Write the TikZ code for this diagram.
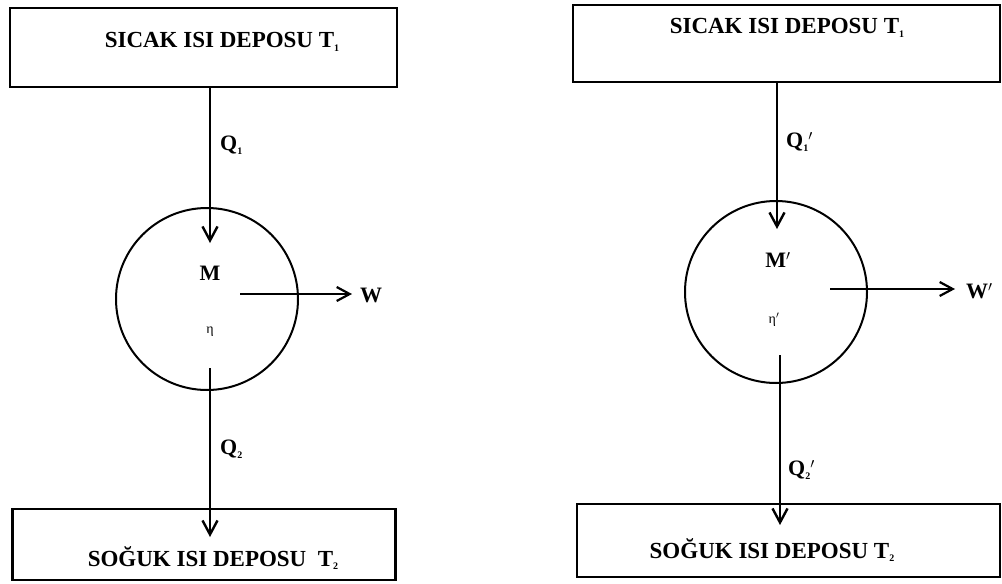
\documentclass[tikz,border=0pt]{standalone}
\usepackage{fontspec}
\setmainfont{Liberation Serif}
\usetikzlibrary{arrows.meta}
\newcommand{\sbs}[1]{\raisebox{-0.35ex}{\fontsize{10}{11}\selectfont #1}}
\begin{document}
\begin{tikzpicture}[x=1pt,y=-1pt,
  reservoir/.style={draw, line width=2.4pt, rectangle, inner sep=0pt},
  engine/.style={draw, line width=2pt, circle, inner sep=0pt},
  lbl/.style={font=\bfseries\fontsize{23}{27}\selectfont, inner sep=0pt},
  sym/.style={font=\bfseries\fontsize{22}{26}\selectfont, inner sep=0pt},
  eff/.style={font=\fontsize{14}{16}\selectfont, inner sep=0pt},
  flow/.style={line width=2.4pt, -{Straight Barb[length=14pt,width=15pt,line width=2.4pt]}},
  work/.style={line width=2.2pt, -{Straight Barb[length=13pt,width=14pt,line width=2.2pt]}}]
\useasboundingbox (0,0) rectangle (1002,584);

% left engine
\node[reservoir, minimum width=387pt, minimum height=79pt] (hotA) at (203.5,47.5) {};
\node[lbl] (hotAt) at (222,42) {SICAK ISI DEPOSU T\sbs{1}};
\node[reservoir, minimum width=383pt, minimum height=71pt] (coldA) at (204,544.5) {};
\node[lbl] (coldAt) at (213,558) {SOĞUK ISI DEPOSU\ \ T\sbs{2}};
\node[engine, minimum size=182pt] (engA) at (207,299) {};
\node[sym] (mA) at (210,273) {M};
\node[eff] (etaA) at (210,332) {η};
\coordinate (inA) at (210,243);
\coordinate (outA) at (210,368);
\coordinate (tipA) at (210,537);
\coordinate (wA0) at (240,294);
\coordinate (wA1) at (352,294);
\node[sym, anchor=west] (wA) at (360,295) {W};
\draw[flow] (hotA.south -| inA) -- (inA);
\draw[flow] (outA) -- (tipA);
\draw[work] (wA0) -- (wA1);
\node[sym, anchor=west] (qA1) at (220,145) {Q\sbs{1}};
\node[sym, anchor=west] (qA2) at (220,449) {Q\sbs{2}};

% right engine
\node[reservoir, minimum width=427pt, minimum height=77pt] (hotB) at (786.5,43.5) {};
\node[lbl] (hotBt) at (787,28) {SICAK ISI DEPOSU T\sbs{1}};
\node[reservoir, minimum width=423pt, minimum height=73pt] (coldB) at (788.5,540.5) {};
\node[lbl] (coldBt) at (772,550) {SOĞUK ISI DEPOSU T\sbs{2}};
\node[engine, minimum size=182pt] (engB) at (776,292) {};
\node[sym] (mB) at (778,260) {M$'$};
\node[eff] (etaB) at (774,320) {η$'$};
\coordinate (inB) at (777,229);
\coordinate (outB) at (780,355);
\coordinate (tipB) at (780,525);
\coordinate (wB0) at (830,289);
\coordinate (wB1) at (955,289);
\node[sym, anchor=west] (wB) at (966,291) {W$'$};
\draw[flow] (hotB.south -| inB) -- (inB);
\draw[flow] (outB) -- (tipB);
\draw[work] (wB0) -- (wB1);
\node[sym, anchor=west] (qB1) at (786,142) {Q\sbs{1}$'$};
\node[sym, anchor=west] (qB2) at (788,470) {Q\sbs{2}$'$};
\end{tikzpicture}
\end{document}
